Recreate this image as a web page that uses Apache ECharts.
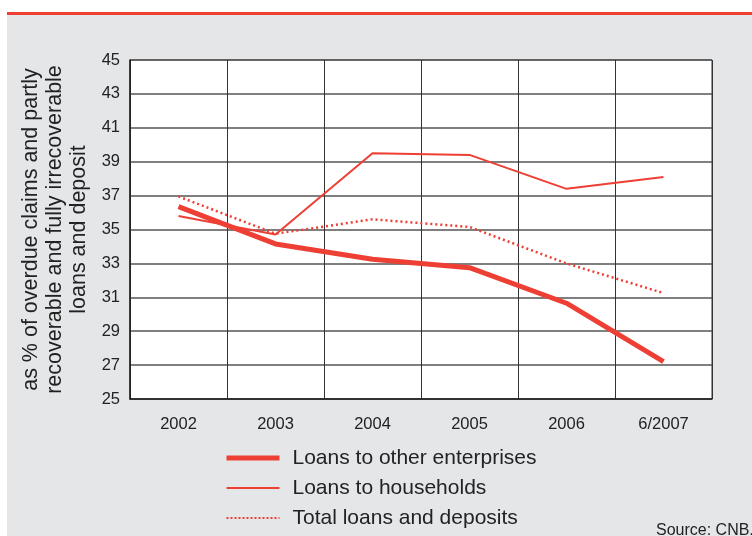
<!DOCTYPE html>
<html>
<head>
<meta charset="utf-8">
<script src="https://cdn.jsdelivr.net/npm/echarts@6/dist/echarts.min.js"></script>
<style>
html,body{margin:0;padding:0;background:#fff;}
#chart{width:752px;height:536px;}
</style>
</head>
<body>
<div id="chart"></div>
<script>
var years = ['2002', '2003', '2004', '2005', '2006', '6/2007'];
var enterprises = [36.35, 34.15, 33.25, 32.75, 30.65, 27.2];
var households = [35.8, 34.7, 39.5, 39.4, 37.4, 38.1];
var totalLoans = [36.95, 34.75, 35.6, 35.15, 33.0, 31.25];
var yTicks = {min: 25, max: 45, step: 2};

var red = '#ee3f35';
var font = 'Liberation Sans, Arial';
var chart = echarts.init(document.getElementById('chart'));

var option = {
    animation: false,
    backgroundColor: '#fff',
    graphic: [
        {type: 'rect', shape: {x: 7, y: 15, width: 745, height: 521}, style: {fill: '#e5e6e8'}, z: -10},
        {type: 'rect', shape: {x: 7, y: 12, width: 745, height: 3}, style: {fill: red}, z: -9},
        {type: 'text', left: 656, top: 523, style: {text: 'Source: CNB.', fontSize: 16, fontFamily: font, fill: '#222'}}
    ],
    grid: {
        left: 130, right: 40, top: 60, bottom: 137,
        show: true, backgroundColor: '#fff', borderColor: '#333', borderWidth: 1
    },
    legend: {
        orient: 'vertical',
        left: 219, top: 441,
        itemWidth: 53, itemHeight: 14, itemGap: 6,
        itemStyle: {opacity: 0},
        textStyle: {fontSize: 21, lineHeight: 24, color: '#222', fontFamily: font, padding: [0, 0, 0, 8]},
        data: [
            {name: 'Loans to other enterprises', lineStyle: {width: 5}},
            {name: 'Loans to households', lineStyle: {width: 2}},
            {name: 'Total loans and deposits', lineStyle: {width: 2, type: [2, 2]}}
        ]
    },
    xAxis: {
        type: 'category',
        data: years,
        boundaryGap: true,
        axisLine: {lineStyle: {color: '#222', width: 1.5}},
        axisTick: {show: false},
        axisLabel: {fontSize: 16.5, color: '#222', margin: 17, fontFamily: font},
        splitLine: {show: true, lineStyle: {color: '#333', width: 1}}
    },
    yAxis: {
        type: 'value',
        min: yTicks.min, max: yTicks.max, interval: yTicks.step,
        name: 'as % of overdue claims and partly\nrecoverable and fully irrecoverable\nloans and deposit',
        nameLocation: 'middle',
        nameGap: 39,
        nameTextStyle: {fontSize: 21.5, color: '#222', lineHeight: 24, fontFamily: font},
        axisLine: {show: true, lineStyle: {color: '#222', width: 1.5}},
        axisTick: {show: false},
        axisLabel: {fontSize: 16.5, color: '#222', margin: 10, fontFamily: font},
        splitLine: {show: true, lineStyle: {color: '#555', width: 1.5}}
    },
    series: [
        {
            name: 'Loans to other enterprises', type: 'line', data: enterprises,
            symbol: 'none', color: red,
            lineStyle: {width: 5, color: red}
        },
        {
            name: 'Loans to households', type: 'line', data: households,
            symbol: 'none', color: red,
            lineStyle: {width: 2, color: red}
        },
        {
            name: 'Total loans and deposits', type: 'line', data: totalLoans,
            symbol: 'none', color: red,
            lineStyle: {width: 2.5, color: red, type: [2, 3]}
        }
    ]
};
chart.setOption(option);
</script>
</body>
</html>
